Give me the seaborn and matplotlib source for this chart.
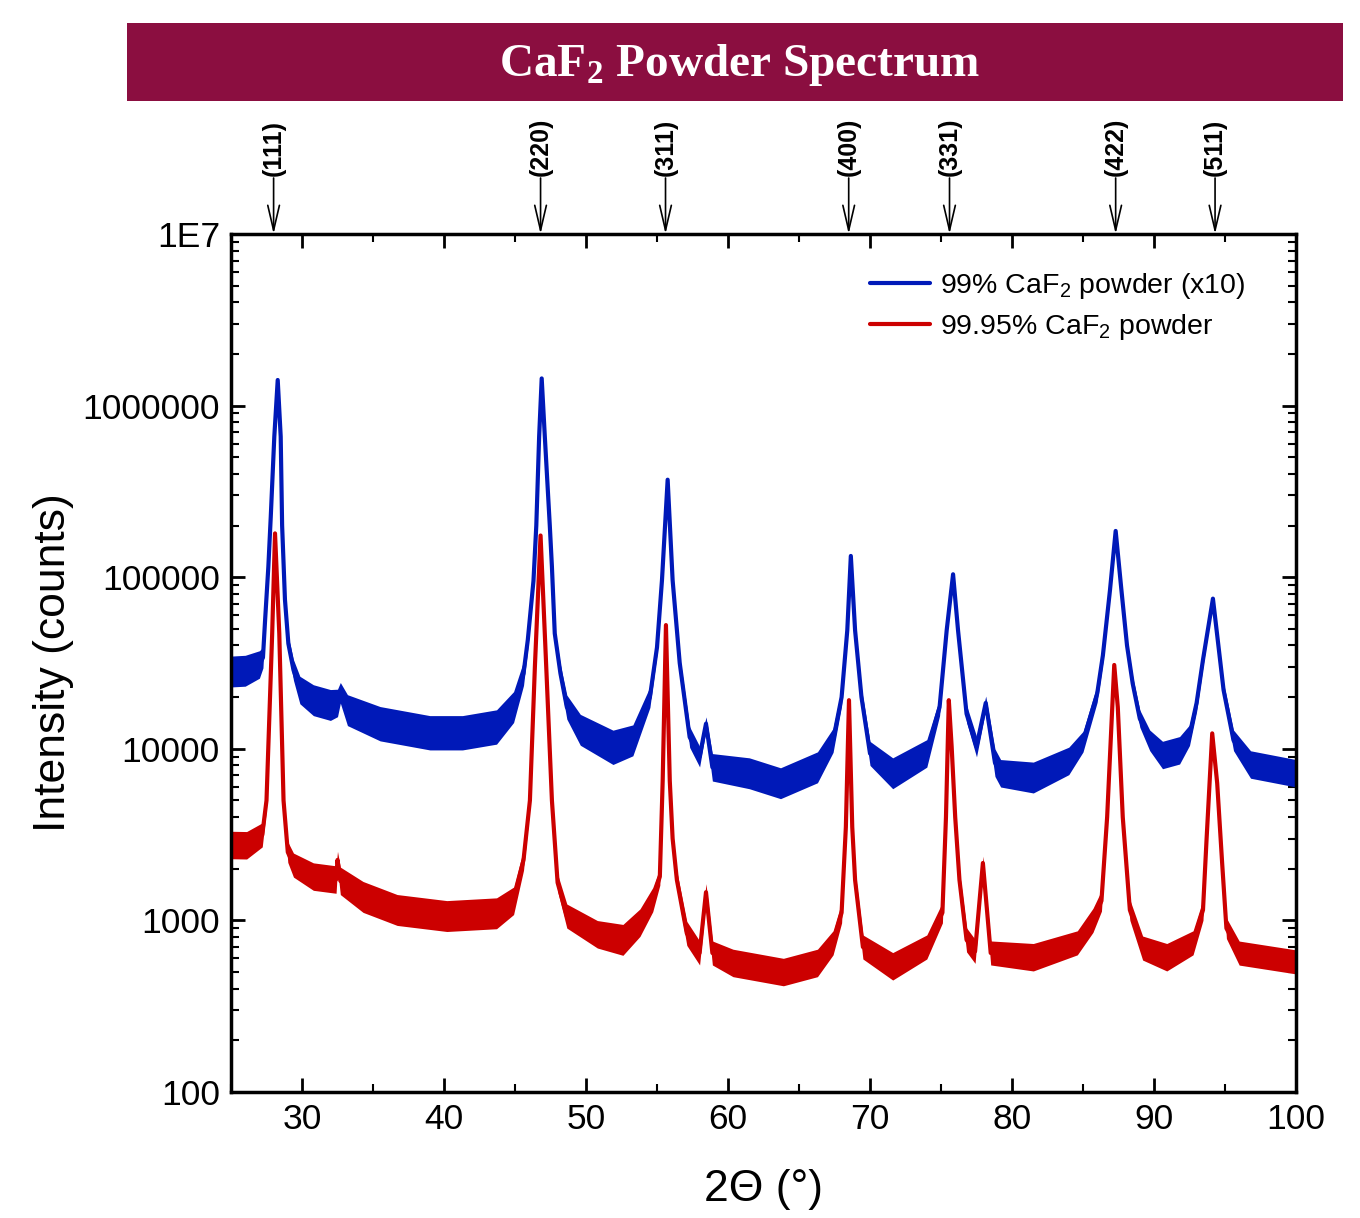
import numpy as np
import pandas as pd
import matplotlib
matplotlib.use("Agg")
import matplotlib.pyplot as plt
import seaborn as sns
from matplotlib.patches import Rectangle
from matplotlib.ticker import FixedLocator, LogLocator, NullFormatter, FixedFormatter, MultipleLocator
import matplotlib.transforms as mtransforms

# ---------------- data ----------------
blue_x = [25.0, 26.0, 27.0, 27.25, 27.4, 27.63, 27.8, 28.05, 28.29, 28.5, 28.6, 28.8,
          29.04, 29.4, 29.85, 30.8, 32.0, 32.5, 32.7, 33.2, 35.5, 39.0, 41.3, 43.7,
          44.9, 45.6, 45.9, 46.3, 46.5, 46.7, 46.88, 47.1, 47.45, 47.6, 47.8, 48.2,
          48.65, 49.6, 51.9,
          53.3, 54.5, 55.0, 55.35, 55.75, 56.1, 56.6, 57.3, 58.0, 58.45, 58.9, 61.5,
          63.7, 66.3, 67.4, 68.0, 68.4, 68.65, 68.95, 69.4, 70.0, 71.6, 74.0, 74.9,
          75.4, 75.85, 76.2, 76.8, 77.5, 78.15, 78.8, 79.2, 81.5, 84.0, 85.0, 86.0,
          86.4, 86.9, 87.3, 87.7, 88.1, 88.5, 89.0, 89.7, 90.6, 91.8, 92.5, 93.0,
          93.45, 94.15, 94.9, 95.6, 96.8, 100.0]
blue_y = [28200, 28500, 31000, 34000, 56000, 115000, 225000, 660000, 1410000, 660000, 200000, 74000,
          41000, 28800, 22000, 19200, 18000, 18500, 21200, 16800, 14000, 12400, 12400, 13400,
          17500, 27500, 43000, 95000, 200000, 660000, 1440000, 660000, 200000, 115000, 47000, 27500,
          17500, 12900, 10200,
          11200, 20000, 39000, 96000, 370000, 96000, 31600, 11700, 9000, 14000, 7800, 7200,
          6300, 7800, 11200, 20000, 49000, 133000, 49000, 20000, 9400, 7200, 9400, 17500,
          49000, 104000, 49000, 16000, 10300, 18500, 8300, 7200, 6800, 8500, 11000, 21000,
          35000, 84000, 186000, 85000, 40000, 24000, 15000, 11200, 9200, 9800, 12000, 18500,
          33000, 75000, 22000, 11200, 8100, 7200]
blue_noise = [0.09, 0.09, 0.08, 0.06, 0.04, 0.02, 0.01, 0.01, 0.01, 0.01, 0.01, 0.02,
              0.04, 0.06, 0.08, 0.09, 0.09, 0.08, 0.06, 0.09, 0.10, 0.10, 0.10, 0.10,
              0.09, 0.07, 0.05, 0.03, 0.01, 0.01, 0.01, 0.01, 0.01, 0.02, 0.03, 0.05,
              0.07, 0.09, 0.10,
              0.09, 0.06, 0.04, 0.02, 0.01, 0.02, 0.04, 0.06, 0.06, 0.04, 0.08, 0.09,
              0.09, 0.09, 0.07, 0.05, 0.03, 0.01, 0.03, 0.05, 0.07, 0.09, 0.08, 0.05,
              0.03, 0.01, 0.03, 0.05, 0.06, 0.04, 0.08, 0.08, 0.09, 0.08, 0.06, 0.05,
              0.04, 0.02, 0.01, 0.02, 0.03, 0.04, 0.05, 0.06, 0.08, 0.08, 0.06, 0.05,
              0.04, 0.01, 0.04, 0.06, 0.08, 0.08]

red_x = [25.0, 26.1, 27.2, 27.5, 27.9, 28.1, 28.4, 28.7, 29.0, 29.4, 30.8, 32.4,
         32.5, 32.7, 34.3, 36.7, 40.2, 43.7, 44.9, 45.6, 46.05, 46.4, 46.8, 47.2,
         47.6, 48.0, 48.65, 50.8, 52.6,
         53.8, 54.7, 55.2, 55.4, 55.63, 55.9, 56.1, 56.4, 57.1, 58.0, 58.45, 58.9,
         60.35, 63.9, 66.3, 67.4, 68.0, 68.3, 68.52, 68.75, 68.95, 69.5, 71.6, 74.0,
         75.1, 75.35, 75.55, 75.75, 76.0, 76.3, 76.8, 77.4, 77.95, 78.5, 81.5, 84.6,
         85.7, 86.3, 86.7, 87.2, 87.45, 87.8, 88.3, 89.2, 90.9, 92.75, 93.45, 93.7,
         94.1, 94.45, 94.8, 95.1, 96.0, 100.0]
red_y = [2750, 2740, 3150, 5000, 47000, 180000, 47000, 5000, 2500, 2100, 1800, 1730,
         2250, 1700, 1370, 1150, 1060, 1100, 1300, 2250, 5000, 30000, 175000, 30000,
         5000, 1660, 1060, 830, 770,
         970, 1320, 1800, 6500, 52600, 6500, 3000, 1720, 840, 646, 1460, 646,
         565, 500, 565, 740, 1110, 3500, 19200, 3500, 1720, 700, 540, 700,
         1110, 4000, 19200, 10300, 4000, 1720, 770, 660, 2160, 646, 610, 740,
         1000, 1300, 4000, 30800, 17500, 4000, 1150, 690, 610, 740, 1150, 2950,
         12300, 6300, 2150, 900, 645, 573]
red_noise = [0.08, 0.08, 0.07, 0.05, 0.01, 0.01, 0.01, 0.04, 0.06, 0.07, 0.08, 0.08,
             0.05, 0.08, 0.09, 0.09, 0.09, 0.09, 0.08, 0.06, 0.04, 0.01, 0.01, 0.01,
             0.03, 0.05, 0.07, 0.08, 0.09,
             0.08, 0.07, 0.05, 0.02, 0.01, 0.02, 0.03, 0.05, 0.07, 0.07, 0.05, 0.07,
             0.08, 0.08, 0.08, 0.07, 0.06, 0.03, 0.01, 0.03, 0.05, 0.07, 0.08, 0.07,
             0.06, 0.03, 0.01, 0.02, 0.03, 0.05, 0.07, 0.07, 0.04, 0.07, 0.08, 0.07,
             0.07, 0.06, 0.03, 0.01, 0.01, 0.03, 0.06, 0.07, 0.08, 0.07, 0.06, 0.04,
             0.01, 0.02, 0.04, 0.06, 0.07, 0.07]

series_labels = ["99% CaF$_2$ powder (x10)", "99.95% CaF$_2$ powder"]
series_colors = ["#0019B8", "#CC0000"]

hkl_labels = ["(111)", "(220)", "(311)", "(400)", "(331)", "(422)", "(511)"]
hkl_pos = [28.0, 46.8, 55.6, 68.5, 75.6, 87.3, 94.3]

y_ticks = [100, 1000, 10000, 100000, 1000000, 10000000]
y_ticklabels = ["100", "1000", "10000", "100000", "1000000", "1E7"]
x_ticks = [30, 40, 50, 60, 70, 80, 90, 100]

title_text = r"CaF$_\mathbf{2}$ Powder Spectrum"
x_label = "2\u0398 (\u00b0)"
y_label = "Intensity (counts)"

assert len(blue_x) == len(blue_y) == len(blue_noise)
assert len(red_x) == len(red_y) == len(red_noise)

# ---------------- style ----------------
sns.set_style("ticks")
plt.rcParams["font.family"] = ["Liberation Sans", "DejaVu Sans"]
plt.rcParams["mathtext.fontset"] = "custom"
plt.rcParams["mathtext.rm"] = "Liberation Sans"
plt.rcParams["mathtext.it"] = "Liberation Sans:italic"
plt.rcParams["mathtext.bf"] = "Liberation Serif:bold"
for k in ["text.color", "axes.labelcolor", "xtick.color", "ytick.color", "axes.edgecolor"]:
    plt.rcParams[k] = "black"

W, H = 1360, 1218
fig = plt.figure(figsize=(W / 100, H / 100), dpi=100)
ax = fig.add_axes([231 / W, 1 - 1092 / H, (1296 - 231) / W, (1092 - 234) / H])

blue_df = pd.DataFrame({"x": blue_x, "y": blue_y, "n": blue_noise})
red_df = pd.DataFrame({"x": red_x, "y": red_y, "n": red_noise})

for df, col, lab in [(blue_df, series_colors[0], series_labels[0]),
                     (red_df, series_colors[1], series_labels[1])]:
    ax.fill_between(df["x"], df["y"] / 10 ** df["n"], df["y"] * 10 ** df["n"],
                    color=col, lw=0)
    sns.lineplot(data=df, x="x", y="y", color=col, lw=3, ax=ax, label=lab,
                 estimator=None, sort=False)

ax.set_yscale("log")
ax.set_xlim(25, 100)
ax.set_ylim(100, 1e7)

ax.yaxis.set_major_locator(FixedLocator(y_ticks))
ax.yaxis.set_major_formatter(FixedFormatter(y_ticklabels))
ax.yaxis.set_minor_locator(LogLocator(base=10, subs=np.arange(2, 10)))
ax.yaxis.set_minor_formatter(NullFormatter())
ax.xaxis.set_major_locator(FixedLocator(x_ticks))
ax.xaxis.set_minor_locator(MultipleLocator(5))

ax.tick_params(axis="both", which="both", direction="in", top=True, right=True,
               labelsize=25.5, colors="black")
ax.tick_params(which="major", length=10, width=2, pad=8)
ax.tick_params(which="minor", length=6, width=1.5)
for s in ax.spines.values():
    s.set_linewidth(2.5)
    s.set_color("black")

ax.set_xlabel(x_label, fontsize=32, labelpad=24)
ax.set_ylabel(y_label, fontsize=32, labelpad=6)

leg = ax.legend(loc="upper left", bbox_to_anchor=(870 / W, 1 - 271 / H),
                bbox_transform=fig.transFigure, frameon=False, fontsize=20.5,
                handlelength=2.1, handletextpad=0.35, labelspacing=0.38,
                borderpad=0, borderaxespad=0)
for lh in leg.get_lines():
    lh.set_linewidth(3)

# title banner
fig.patches.append(Rectangle((127 / W, 1 - 101 / H), (1343 - 127) / W, 78 / H,
                             transform=fig.transFigure, facecolor="#8B0E40",
                             edgecolor="none", zorder=0))
fig.text(740 / W, 1 - 65 / H, title_text, color="white", fontsize=34,
         fontfamily="Liberation Serif", fontweight="bold", ha="center", va="center")

# hkl markers
trans = mtransforms.blended_transform_factory(ax.transData, fig.transFigure)
for lab, xp in zip(hkl_labels, hkl_pos):
    fig.text(xp, 1 - 176 / H, lab, transform=trans, rotation=90,
             ha="center", va="bottom", fontsize=18, fontweight="bold")
    ax.annotate("", xy=(xp, 1.0), xycoords=("data", "axes fraction"),
                xytext=(xp, 1 - 178 / H), textcoords=trans,
                arrowprops=dict(arrowstyle="->,head_length=1.5,head_width=0.35",
                                lw=1.2, color="black", shrinkA=0, shrinkB=0,
                                mutation_scale=12),
                annotation_clip=False)

fig.savefig("out.png", dpi=100)
